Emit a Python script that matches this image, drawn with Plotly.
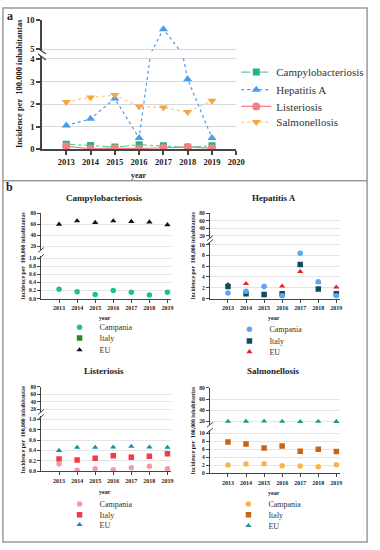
import plotly.graph_objects as go

# ---------------- data ----------------
years = [2013, 2014, 2015, 2016, 2017, 2018, 2019]
year_ticks_a = [2013, 2014, 2015, 2016, 2017, 2018, 2019, 2020]

disease_names = ["Campylobacteriosis", "Hepatitis A", "Listeriosis", "Salmonellosis"]
area_names = ["Campania", "Italy", "EU"]

# Campania (panel a uses the same values)
campy_campania = [0.23, 0.17, 0.10, 0.20, 0.16, 0.09, 0.16]
hepa_campania = [1.05, 1.35, 2.25, 0.50, 8.40, 3.10, 0.50]
list_campania = [0.14, 0.02, 0.05, 0.03, 0.07, 0.10, 0.05]
salm_campania = [2.10, 2.30, 2.40, 1.90, 1.85, 1.65, 2.15]

# Italy
campy_italy = [None, None, None, None, None, None, None]
hepa_italy = [2.25, 0.87, 0.75, 0.90, 6.30, 1.75, 0.87]
list_italy = [0.24, 0.22, 0.25, 0.30, 0.27, 0.29, 0.34]
salm_italy = [7.8, 7.3, 6.3, 6.8, 5.5, 6.0, 5.4]

# EU
campy_eu = [60, 66, 63, 66, 65, 64, 59]
hepa_eu = [2.6, 2.75, 2.3, 2.3, 5.0, 3.0, 2.1]
list_eu = [0.40, 0.46, 0.46, 0.465, 0.48, 0.465, 0.46]
salm_eu = [19.8, 20.0, 20.3, 19.8, 19.4, 19.8, 19.5]

# ---------------- helpers ----------------
W, H = 380, 550
def fx(p):
    return p / W
def fy(p):
    return 1 - p / H

SERIF = "Liberation Serif, Times New Roman, serif"
AX = "#444444"

fig = go.Figure()
legends = {}
leg_count = [0]

def new_legend(text_x, center_y, fsize):
    leg_count[0] += 1
    key = "legend" if leg_count[0] == 1 else "legend%d" % leg_count[0]
    legends[key] = dict(x=fx(text_x - 40), y=fy(center_y - 14.5), xanchor="left", yanchor="top",
                        bgcolor="rgba(0,0,0,0)", borderwidth=0, orientation="v",
                        font=dict(family=SERIF, size=fsize, color="#333"),
                        itemclick=False, itemdoubleclick=False, tracegroupgap=0)
    return key

# ---------------- panel a ----------------
series_a = [
    (disease_names[0], campy_campania, "#1DB87A", "#5FCF9E", "square", "dashdot", 7),
    (disease_names[1], hepa_campania, "#4B9CEB", "#4B9CEB", "triangle-up", "dot", 8),
    (disease_names[2], list_campania, "#F47F84", "#F47F84", "circle", "solid", 8),
    (disease_names[3], salm_campania, "#F8A545", "#F9C78A", "triangle-down", "dot", 8),
]
leg_y_a = [68, 86, 103, 119]
for i, (name, vals, mcol, lcol, sym, dash, ms) in enumerate(series_a):
    lg = new_legend(282, leg_y_a[i], 11)
    for yref, show in (("y", True), ("y2", False)):
        fig.add_trace(go.Scatter(
            x=years, y=vals, name=name, mode="lines+markers",
            xaxis="x", yaxis=yref, legend=lg, legendgroup=name,
            showlegend=show,
            line=dict(color=lcol, width=1.2, dash=dash),
            marker=dict(color=mcol, symbol=sym, size=ms),
        ))

# ---------------- panel b ----------------
# lower-segment max / upper-segment min of each broken axis
panels = [
    dict(x="x2", ylo="y3", yhi="y4", lo_max=1.05, hi_min=13, text_x=101, leg_y=[328, 339, 351],
         series=[("EU", campy_eu, "#111111", "triangle-up"),
                 ("Italy", campy_italy, "#1F8A2F", "square"),
                 ("Campania", campy_campania, "#1CC28C", "circle")]),
    dict(x="x3", ylo="y5", yhi="y6", lo_max=10.55, hi_min=12.1, text_x=275, leg_y=[330, 342, 353],
         series=[("EU", hepa_eu, "#E8202A", "triangle-up"),
                 ("Italy", hepa_italy, "#0E4D5C", "square"),
                 ("Campania", hepa_campania, "#58A9F2", "circle")]),
    dict(x="x4", ylo="y7", yhi="y8", lo_max=1.057, hi_min=12.1, text_x=101, leg_y=[508, 519, 529],
         series=[("EU", list_eu, "#1A8CA8", "triangle-up"),
                 ("Italy", list_italy, "#F23A4A", "square"),
                 ("Campania", list_campania, "#F49BA0", "circle")]),
    dict(x="x5", ylo="y9", yhi="y10", lo_max=10.73, hi_min=13, text_x=274, leg_y=[508, 519, 530],
         series=[("EU", salm_eu, "#1A9E7A", "triangle-up"),
                 ("Italy", salm_italy, "#C4651A", "square"),
                 ("Campania", salm_campania, "#F9B54C", "circle")]),
]
for p in panels:
    for name, vals, col, sym in p["series"]:
        rank = area_names.index(name)
        lg = new_legend(p["text_x"], p["leg_y"][rank], 8)
        lo_vals = [v if (v is not None and v <= p["lo_max"]) else None for v in vals]
        hi_vals = [v if (v is not None and v >= p["hi_min"]) else None for v in vals]
        for yref, yv, show in ((p["ylo"], lo_vals, True), (p["yhi"], hi_vals, False)):
            fig.add_trace(go.Scatter(
                x=years, y=yv, name=name, mode="markers",
                xaxis=p["x"], yaxis=yref, legend=lg,
                legendgroup=lg, showlegend=show,
                marker=dict(color=col, symbol=sym, size=5.5),
            ))

# ---------------- axes ----------------
def xaxis_def(d0, d1, rng, ticks, anchor, fsize, lw):
    return dict(domain=[fx(d0), fx(d1)], range=rng, tickvals=ticks, anchor=anchor,
                showline=True, linecolor=AX, linewidth=lw, ticks="outside",
                ticklen=4 if fsize > 7 else 3, tickcolor=AX, tickwidth=lw,
                showgrid=False, zeroline=False, fixedrange=True,
                tickfont=dict(family=SERIF, size=fsize, color="#222", weight="bold"))

def yaxis_def(top, bot, rng, ticks, anchor, fsize, lw, fmt=None, grid=True, gridcol="#E4E4E4"):
    d = dict(domain=[fy(bot), fy(top)], range=rng, tickvals=ticks, anchor=anchor,
             showline=True, linecolor=AX, linewidth=lw, ticks="outside",
             ticklen=4 if fsize > 7 else 3, tickcolor=AX, tickwidth=lw,
             showgrid=grid, gridcolor=gridcol, gridwidth=1, zeroline=False, fixedrange=True,
             tickfont=dict(family=SERIF, size=fsize, color="#222", weight="bold"))
    if fmt:
        d["tickformat"] = fmt
    return d

layout_axes = {}
# panel a
layout_axes["xaxis"] = xaxis_def(43, 242, [2012, 2020], year_ticks_a, "y", 8.5, 1.5)
layout_axes["yaxis"] = yaxis_def(52, 147, [0, 4.13], [0, 1, 2, 3, 4], "x", 8.5, 1.5,
                                 gridcol="#D8D8D8")
ya2 = yaxis_def(15, 47, [4.67, 10], [5, 10], "x", 8.5, 1.5, grid=False)
ya2["minor"] = dict(tickvals=[5], showgrid=True, gridcolor="#D8D8D8", gridwidth=1, ticks="")
layout_axes["yaxis2"] = ya2

xr = [2012, 2019.19]
# Campylobacteriosis
layout_axes["xaxis2"] = xaxis_def(42, 175, xr, years, "y3", 6, 1)
layout_axes["yaxis3"] = yaxis_def(256, 299, [0, 1.05], [0, 0.2, 0.4, 0.6, 0.8, 1.0], "x2", 5.5, 1, ".1f")
layout_axes["yaxis4"] = yaxis_def(212, 250, [13, 80], [20, 40, 60, 80], "x2", 5.5, 1)
# Hepatitis A
layout_axes["xaxis3"] = xaxis_def(215, 348, xr, years, "y5", 6, 1)
layout_axes["yaxis5"] = yaxis_def(241, 299, [0, 10.55], [0, 2, 4, 6, 8, 10], "x3", 5.5, 1)
layout_axes["yaxis6"] = yaxis_def(212, 238, [12.1, 80], [20, 40, 60, 80], "x3", 5.5, 1)
# Listeriosis
layout_axes["xaxis4"] = xaxis_def(42, 175, xr, years, "y7", 6, 1)
layout_axes["yaxis7"] = yaxis_def(419, 475, [0, 1.057], [0, 0.2, 0.4, 0.6, 0.8, 1.0], "x4", 5.5, 1, ".1f")
layout_axes["yaxis8"] = yaxis_def(389, 415, [12.1, 80], [20, 40, 60, 80], "x4", 5.5, 1)
# Salmonellosis
layout_axes["xaxis5"] = xaxis_def(215, 348, xr, years, "y9", 6, 1)
layout_axes["yaxis9"] = yaxis_def(433, 477, [0, 10.73], [0, 2, 4, 6, 8, 10], "x5", 5.5, 1)
layout_axes["yaxis10"] = yaxis_def(390, 428, [13, 80], [20, 40, 60, 80], "x5", 5.5, 1)

# ---------------- annotations ----------------
def ann(text, x, y, size, bold=True, angle=0, color="#222"):
    return dict(text=text, x=fx(x), y=fy(y), xref="paper", yref="paper",
                showarrow=False, textangle=angle, xanchor="center", yanchor="middle",
                font=dict(family=SERIF, size=size, color=color, weight="bold" if bold else "normal"))

annotations = [
    ann("a", 10, 11, 12),
    ann("b", 10, 185, 12),
    ann("year", 142, 174, 8),
    ann("Incidence per  100.000 inhabitantas", 19, 80, 8.5, angle=-90),
    ann("Campylobacteriosis", 107, 197, 9),
    ann("Hepatitis A", 281, 197, 9),
    ann("Listeriosis", 107, 373, 9),
    ann("Salmonellosis", 280, 373, 9),
    ann("year", 108, 319, 6),
    ann("year", 281, 319, 6),
    ann("year", 108, 496, 6),
    ann("year", 281, 497, 6),
    ann("Incidence per  100,000 inhabitantas", 24, 255, 5.8, angle=-90),
    ann("Incidence per  100,000 inhabitantas", 198, 255, 5.8, angle=-90),
    ann("Incidence per  100,000 inhabitantas", 24, 432, 5.8, angle=-90),
    ann("Incidence per  100,000 inhabitantas", 198, 433, 5.8, angle=-90),
]

# ---------------- shapes (frame + axis breaks) ----------------
def seg(x0, y0, x1, y1, color, width):
    return dict(type="line", xref="paper", yref="paper",
                x0=fx(x0), y0=fy(y0), x1=fx(x1), y1=fy(y1),
                line=dict(color=color, width=width))

shapes = [
    dict(type="rect", xref="paper", yref="paper", x0=fx(3), y0=fy(547), x1=fx(376), y1=fy(3),
         line=dict(color="#9A9A9A", width=1.5), fillcolor="rgba(0,0,0,0)"),
    seg(3, 179, 376, 179, "#9A9A9A", 1.5),
    # panel a break
    seg(39, 44, 47, 50, AX, 1.3),
    seg(39, 50, 47, 56, AX, 1.3),
]
for xa, yb, yt in ((42, 250, 256), (215, 238, 241), (42, 415, 419), (215, 428, 433)):
    shapes.append(seg(xa - 3, yb + 2, xa + 3, yb - 3, AX, 1))
    shapes.append(seg(xa - 3, yt + 3, xa + 3, yt - 2, AX, 1))

fig.update_layout(
    width=W, height=H, margin=dict(l=0, r=0, t=0, b=0),
    paper_bgcolor="white", plot_bgcolor="rgba(0,0,0,0)",
    showlegend=True, annotations=annotations, shapes=shapes,
    **layout_axes, **legends,
)

fig.write_html("out.html", config={"displayModeBar": False},
               post_script="document.body.style.margin='0';document.body.style.overflow='hidden';")
